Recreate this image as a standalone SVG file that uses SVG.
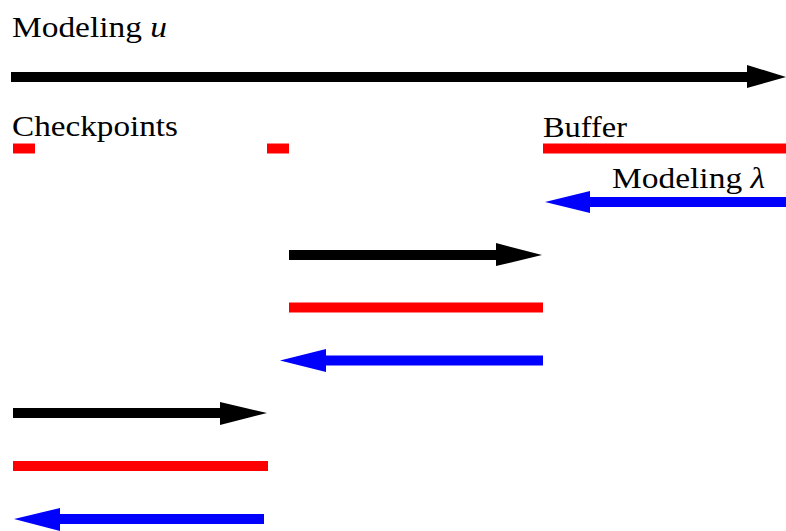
<svg xmlns="http://www.w3.org/2000/svg" width="786" height="531" viewBox="0 0 786 531">
<style>
text{font-family:"Liberation Serif","DejaVu Serif",serif;font-size:29px;fill:#000}
.k{stroke:#000;stroke-width:10;fill:none}
.r{stroke:#f00;stroke-width:10;fill:none}
.b{stroke:#00f;stroke-width:10;fill:none}
.hk{fill:#000}
.hb{fill:#00f}
</style>
<rect width="786" height="531" fill="#fff"/>
<g id="labels">
<text x="12" y="37" textLength="155" lengthAdjust="spacingAndGlyphs">Modeling <tspan font-style="italic">u</tspan></text>
<text x="12" y="136" textLength="166" lengthAdjust="spacingAndGlyphs">Checkpoints</text>
<text x="543" y="137" textLength="84" lengthAdjust="spacingAndGlyphs">Buffer</text>
<text x="612" y="188" textLength="153" lengthAdjust="spacingAndGlyphs">Modeling <tspan font-style="italic">λ</tspan></text>
</g>
<g id="connectors">
<g id="modeling-u">
<line class="k" x1="11" y1="77" x2="750" y2="77"/>
<polygon class="hk" points="747,65 786,77 747,88"/>
</g>
<g id="checkpoints">
<line class="r" x1="13" y1="148.5" x2="35" y2="148.5"/>
<line class="r" x1="267" y1="148.5" x2="289" y2="148.5"/>
</g>
<g id="buffer">
<line class="r" x1="543" y1="148.5" x2="786" y2="148.5"/>
</g>
<g id="modeling-lambda">
<line class="b" x1="786" y1="202" x2="587" y2="202"/>
<polygon class="hb" points="590,191 545,202 590,213"/>
</g>
<g id="mid-forward">
<line class="k" x1="289" y1="255" x2="499" y2="255"/>
<polygon class="hk" points="496,243 542,255 496,266"/>
</g>
<g id="mid-buffer">
<line class="r" x1="289" y1="307.5" x2="543" y2="307.5"/>
</g>
<g id="mid-backward">
<line class="b" x1="543" y1="360.5" x2="323" y2="360.5"/>
<polygon class="hb" points="326,349 280,360.5 326,372"/>
</g>
<g id="low-forward">
<line class="k" x1="13" y1="413" x2="223" y2="413"/>
<polygon class="hk" points="220,402 267,413 220,425"/>
</g>
<g id="low-buffer">
<line class="r" x1="13" y1="466" x2="268" y2="466"/>
</g>
<g id="low-backward">
<line class="b" x1="264" y1="519" x2="57" y2="519"/>
<polygon class="hb" points="60,508 14,519 60,531"/>
</g>
</g>
</svg>
